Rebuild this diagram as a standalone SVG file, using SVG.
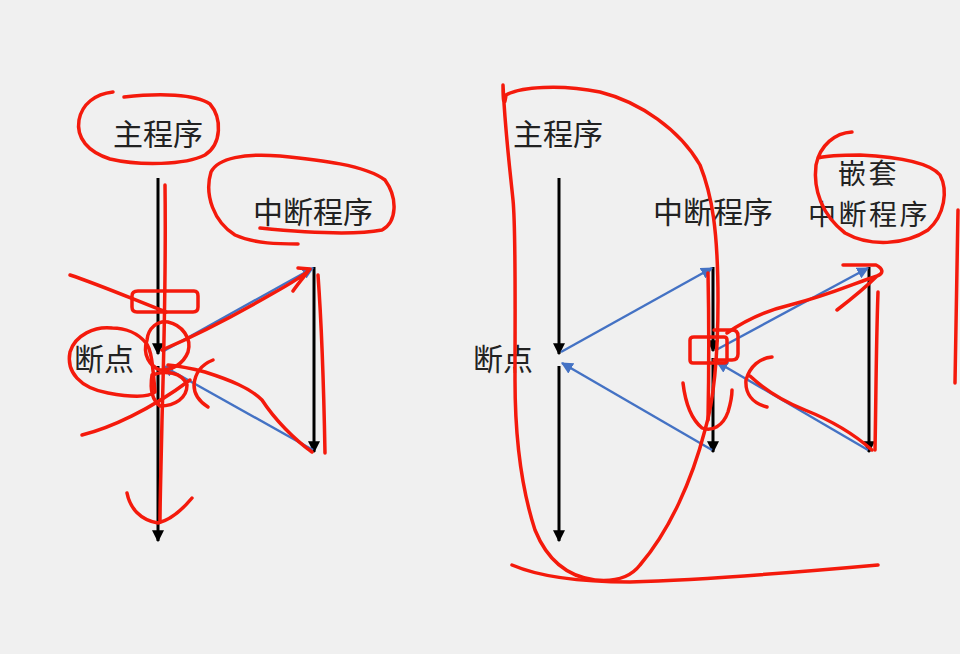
<svg xmlns="http://www.w3.org/2000/svg" width="960" height="654" viewBox="0 0 960 654">
<style>
.t{font-family:"Noto Sans CJK SC","Noto Sans",sans-serif;font-size:30px;fill:#222}
.n{font-family:"Noto Sans CJK SC","Noto Sans",sans-serif;font-size:28px;letter-spacing:2.5px;fill:#222}
.k{stroke:#000;stroke-width:3;fill:none}
.b{stroke:#4472c4;stroke-width:2.4;fill:none}
.r{stroke:#f41a0c;stroke-width:3.5;fill:none;stroke-linecap:round;stroke-linejoin:round}
</style>
<defs>
<marker id="ak" viewBox="0 0 10 10" refX="9" refY="5" markerWidth="4" markerHeight="4" orient="auto" markerUnits="strokeWidth"><path d="M0,0L10,5L0,10z" fill="#000"/></marker>
<marker id="ab" viewBox="0 0 10 10" refX="9" refY="5" markerWidth="5" markerHeight="5" orient="auto" markerUnits="strokeWidth"><path d="M0,0L10,5L0,10z" fill="#4472c4"/></marker>
</defs>
<rect width="960" height="654" fill="#f0f0f0"/>

<g id="left-labels">
<text class="t" x="113" y="145">主程序</text>
<text class="t" x="253" y="223">中断程序</text>
<text class="t" x="74" y="370">断点</text>
</g>
<g id="right-labels">
<text class="t" x="513" y="145">主程序</text>
<text class="t" x="653" y="223">中断程序</text>
<text class="n" x="838" y="184">嵌套</text>
<text class="n" x="808" y="225">中断程序</text>
<text class="t" x="473" y="370">断点</text>
</g>

<g id="connectors">
<path class="k" d="M158,178V354" marker-end="url(#ak)"/>
<path class="k" d="M158,366V541" marker-end="url(#ak)"/>
<path class="k" d="M314,267V452" marker-end="url(#ak)"/>
<path class="b" d="M162,352L313,268" marker-end="url(#ab)"/>
<path class="b" d="M313,450L163,366" marker-end="url(#ab)"/>

<path class="k" d="M559,178V354" marker-end="url(#ak)"/>
<path class="k" d="M559,366V541" marker-end="url(#ak)"/>
<path class="k" d="M713,267V351" marker-end="url(#ak)"/>
<path class="k" d="M713,358V452" marker-end="url(#ak)"/>
<path class="k" d="M869,267V452" marker-end="url(#ak)"/>
<path class="b" d="M561,352L712,268" marker-end="url(#ab)"/>
<path class="b" d="M712,450L562,363" marker-end="url(#ab)"/>
<path class="b" d="M716,350L868,268" marker-end="url(#ab)"/>
<path class="b" d="M868,450L717,362" marker-end="url(#ab)"/>
</g>

<g id="left-annotations">
<path class="r" d="M113,92C95,94 82,104 79,120C76,138 88,152 110,159C140,166 185,165 205,155C222,144 222,118 210,104C195,94 160,93 124,97"/>
<path class="r" d="M260,228C300,232 350,236 382,230C397,222 398,198 385,180C365,165 320,160 280,156C245,153 218,158 211,172C204,195 214,222 235,235C255,244 280,244 298,244"/>
<path class="r" d="M165,185C166,260 164,350 162,420C161,470 160,500 160,522"/>
<path class="r" d="M127,493C130,508 140,520 158,523C170,520 182,510 192,498"/>
<path class="r" d="M138,291H194Q198,291 198,296V307Q198,312 193,312H137Q132,312 132,307V296Q132,291 138,291Z"/>
<path class="r" d="M70,275C100,285 130,298 166,312"/>
<path class="r" d="M147,340C148,328 158,320 168,322C182,325 192,338 188,352C183,365 170,371 160,370C150,366 142,355 147,340Z"/>
<path class="r" d="M112,328C95,326 75,335 70,352C66,372 80,388 108,393C130,397 148,398 155,392C153,370 152,350 146,343C138,333 125,328 112,328"/>
<path class="r" d="M152,375C165,370 182,372 187,385C187,398 175,406 160,406C152,400 150,388 152,375Z"/>
<path class="r" d="M162,350C190,338 230,318 270,295C290,284 305,275 310,269L298,268M310,269C303,278 297,285 293,291"/>
<path class="r" d="M312,452C295,440 275,420 262,400C250,388 230,380 205,372C190,368 178,366 168,365"/>
<path class="r" d="M213,360C203,364 195,372 194,385C194,395 200,402 208,407"/>
<path class="r" d="M82,435C110,428 150,410 190,380"/>
<path class="r" d="M318,275C322,330 324,400 325,453"/>
</g>

<g id="right-annotations">
<path class="r" d="M503,85C503,100 504,110 506,95C520,87 560,84 600,92C640,102 680,130 700,165C712,195 718,230 718,300C718,350 714,400 705,430C692,480 670,530 640,565C630,578 615,582 595,580C570,577 548,562 535,530C522,490 515,440 515,380C515,300 516,230 513,200C510,170 505,130 503,85"/>
<path class="r" d="M512,565C540,577 580,582 630,582C700,580 800,572 878,565"/>
<path class="r" d="M852,132C835,133 820,145 816,165C813,190 822,215 845,233C870,247 905,245 928,230C945,215 948,190 940,175C930,163 900,157 860,155C840,155 825,156 818,158"/>
<path class="r" d="M958,210C957,260 956,320 955,383"/>
<path class="r" d="M694,337H724Q727,337 727,340V360Q727,363 724,363H693Q690,363 690,360V340Q690,337 694,337Z"/>
<path class="r" d="M714,330H732Q738,330 738,336V354Q738,360 732,360H714"/>
<path class="r" d="M708,273C709,320 709,370 708,420"/>
<path class="r" d="M683,383C685,400 690,418 702,428C712,432 723,426 728,412C731,402 732,396 732,390"/>
<path class="r" d="M727,333C740,324 760,312 790,305C830,295 855,283 877,276C885,273 882,268 876,265H843M877,276C865,288 850,300 837,310"/>
<path class="r" d="M872,450C855,435 830,420 805,410C785,402 765,390 750,376"/>
<path class="r" d="M772,357C760,358 750,366 746,380C745,393 752,403 767,407"/>
<path class="r" d="M878,292C876,350 876,400 875,450"/>
</g>
</svg>
